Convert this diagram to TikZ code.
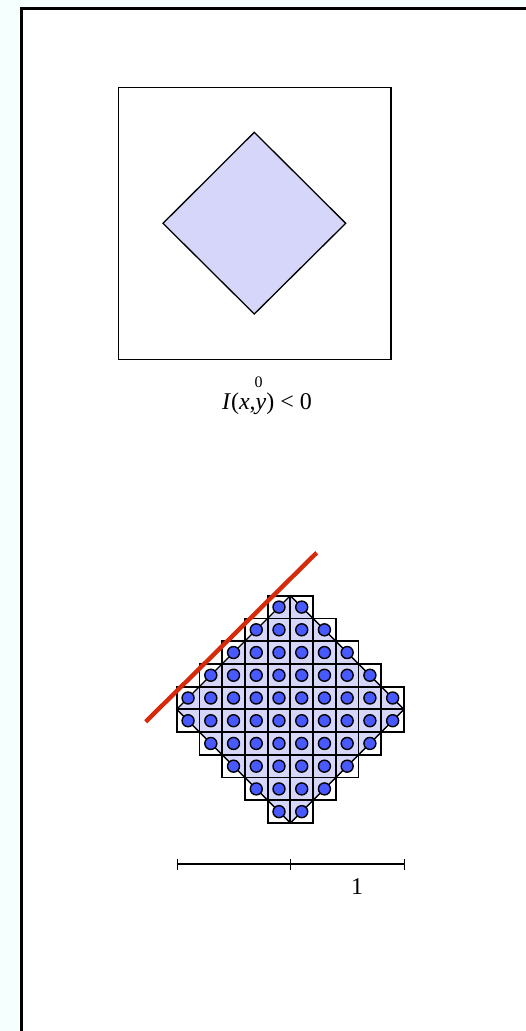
\documentclass[tikz,border=0pt]{standalone}
\usepackage{fontspec}
\setmainfont{Liberation Serif}
\definecolor{bgcyan}{RGB}{245,255,253}
\definecolor{lav}{RGB}{214,214,250}
\definecolor{dotblue}{RGB}{72,90,255}
\definecolor{redline}{RGB}{213,43,10}
\tikzset{
  frame/.style={line width=3pt, fill=white},
  box/.style={line width=1.5pt},
  lavshape/.style={draw=black, line width=1.3pt, fill=lav},
  cell/.style={draw=black, line width=1.8pt},
  dot/.style={draw=black, line width=1.4pt, fill=dotblue},
  bar/.style={line width=1.3pt},
  big/.style={font=\fontsize{24}{28}\selectfont, inner sep=0pt},
  small/.style={font=\fontsize{16}{18}\selectfont, inner sep=0pt}
}
\begin{document}
\begin{tikzpicture}[x=1pt,y=-1pt]
\useasboundingbox (0,0) rectangle (525,1031);
\fill[bgcyan] (0,0) rectangle (525,1031);
\draw[frame] (21.5,8) rectangle (560,1060);
% upper panel
\draw[box] (118.3,87.3) rectangle (391,359.3);
\draw[lavshape] (254.3,132.3) -- (345.7,223.3) -- (254.3,314) -- (163,223.3) -- cycle;
\node[small] (zero) at (258.7,382) {0};
\node[big] (ineq) at (267,404) {\textit{I}(\textit{x},\textit{y}) < 0};
% lower panel
\def\cs{22.73}
\def\xo{176.7}
\def\yo{595.7}
\fill[lav] (290.35,595.7) -- (404,709.35) -- (290.35,823) -- (176.7,709.35) -- cycle;
\draw[line width=1.3pt] (290.35,595.7) -- (404,709.35) -- (290.35,823) -- (176.7,709.35) -- cycle;
\foreach \r/\a/\b in {0/4/5,1/3/6,2/2/7,3/1/8,4/0/9,5/0/9,6/1/8,7/2/7,8/3/6,9/4/5} {
  \foreach \c in {\a,...,\b} {
    \draw[cell] ({\xo+\c*\cs},{\yo+\r*\cs}) rectangle +(\cs,\cs);
  }
}
\foreach \r/\a/\b in {0/4/5,1/3/6,2/2/7,3/1/8,4/0/9,5/0/9,6/1/8,7/2/7,8/3/6,9/4/5} {
  \foreach \c in {\a,...,\b} {
    \draw[dot] ({\xo+(\c+0.5)*\cs},{\yo+(\r+0.5)*\cs}) circle (6);
  }
}
\coordinate (r1) at (145.7,721.7);
\coordinate (r2) at (316.7,552.7);
\draw[redline, line width=4.4pt] (r1) -- (r2);
% scale bar
\coordinate (s0) at (177.3,864);
\coordinate (s1) at (290.7,864);
\coordinate (s2) at (404.3,864);
\draw[bar] (s0) -- (s2);
\foreach \p in {s0,s1,s2} \draw[bar] ([yshift=-5.5pt]\p) -- ([yshift=5.5pt]\p);
\node[big] (one) at (357,887) {1};
\end{tikzpicture}
\end{document}
